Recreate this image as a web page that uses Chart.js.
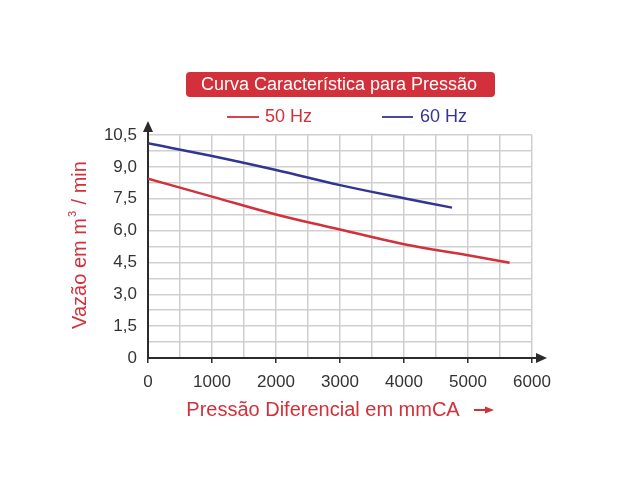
<!DOCTYPE html>
<html>
<head>
<meta charset="utf-8">
<script src="https://cdn.jsdelivr.net/npm/chart.js@4.4.0/dist/chart.umd.min.js"></script>
<style>
html,body{margin:0;padding:0;background:#fff;}
#wrap{width:640px;height:480px;position:relative;}
</style>
</head>
<body>
<div id="wrap"><canvas id="c" width="640" height="480"></canvas></div>
<script>
const chartTitle = 'Curva Característica para Pressão';
const seriesNames = ['50 Hz', '60 Hz'];
const xTitle = 'Pressão Diferencial em mmCA';
const yTitleParts = ['Vazão em m', '3', ' / min'];
const x50 = [0, 1000, 2000, 3000, 4000, 5000, 5650];
const y50 = [8.44, 7.6, 6.76, 6.05, 5.36, 4.84, 4.48];
const x60 = [0, 1000, 2000, 3000, 4000, 4750];
const y60 = [10.11, 9.51, 8.85, 8.14, 7.52, 7.08];
const yTickLabels = ['0', '1,5', '3,0', '4,5', '6,0', '7,5', '9,0', '10,5'];
const xTickLabels = ['0', '1000', '2000', '3000', '4000', '5000', '6000'];

const RED = '#d2303a';
const BLUE = '#333592';
const FONT = '"Liberation Sans", Arial, sans-serif';

const pts = (xs, ys) => xs.map((x, i) => ({x: x, y: ys[i]}));

const deco = {
  id: 'deco',
  afterDraw(chart) {
    const ctx = chart.ctx;
    const xs = chart.scales.x, ys = chart.scales.y;
    const x0 = xs.getPixelForValue(0), y0 = ys.getPixelForValue(0);
    const xEnd = xs.getPixelForValue(6000), yTop = ys.getPixelForValue(10.5);
    ctx.save();
    // arrows
    ctx.fillStyle = '#2b2b2b';
    ctx.strokeStyle = '#2b2b2b';
    ctx.lineWidth = 2;
    ctx.beginPath(); ctx.moveTo(x0, yTop); ctx.lineTo(x0, yTop - 6); ctx.stroke();
    ctx.beginPath(); ctx.moveTo(x0, yTop - 14); ctx.lineTo(x0 - 5, yTop - 3); ctx.lineTo(x0 + 5, yTop - 3); ctx.closePath(); ctx.fill();
    ctx.beginPath(); ctx.moveTo(xEnd, y0); ctx.lineTo(xEnd + 6, y0); ctx.stroke();
    ctx.beginPath(); ctx.moveTo(xEnd + 15, y0); ctx.lineTo(xEnd + 4, y0 - 5); ctx.lineTo(xEnd + 4, y0 + 5); ctx.closePath(); ctx.fill();
    // title box
    ctx.fillStyle = RED;
    ctx.beginPath();
    if (ctx.roundRect) ctx.roundRect(186, 72, 309, 25, 4); else ctx.rect(186, 72, 309, 25);
    ctx.fill();
    ctx.fillStyle = '#ffffff';
    ctx.font = '18px ' + FONT;
    ctx.textAlign = 'center';
    ctx.textBaseline = 'middle';
    ctx.fillText(chartTitle, 339, 85);
    // legend
    ctx.lineWidth = 1.8;
    ctx.strokeStyle = RED;
    ctx.beginPath(); ctx.moveTo(227, 117); ctx.lineTo(259, 117); ctx.stroke();
    ctx.strokeStyle = BLUE;
    ctx.beginPath(); ctx.moveTo(382, 117); ctx.lineTo(413, 117); ctx.stroke();
    ctx.font = '18px ' + FONT;
    ctx.textAlign = 'left';
    ctx.fillStyle = RED; ctx.fillText(seriesNames[0], 265, 117);
    ctx.fillStyle = BLUE; ctx.fillText(seriesNames[1], 420, 117);
    // x title
    ctx.font = '20px ' + FONT;
    ctx.fillStyle = RED;
    ctx.textAlign = 'center';
    ctx.fillText(xTitle, 323, 410);
    ctx.strokeStyle = RED;
    ctx.lineWidth = 2;
    ctx.beginPath(); ctx.moveTo(474, 410); ctx.lineTo(487, 410); ctx.stroke();
    ctx.beginPath(); ctx.moveTo(494, 410); ctx.lineTo(485, 406.5); ctx.lineTo(485, 413.5); ctx.closePath(); ctx.fillStyle = RED; ctx.fill();
    // y title with superscript
    ctx.translate(80, 245);
    ctx.rotate(-Math.PI / 2);
    ctx.fillStyle = RED;
    ctx.textAlign = 'left';
    const big = '20px ' + FONT, small = '11px ' + FONT;
    ctx.font = big; const w0 = ctx.measureText(yTitleParts[0]).width;
    ctx.font = small; const w1 = ctx.measureText(yTitleParts[1]).width + 2;
    ctx.font = big; const w2 = ctx.measureText(yTitleParts[2]).width;
    let sx = -(w0 + w1 + w2) / 2;
    ctx.font = big; ctx.fillText(yTitleParts[0], sx, 0); sx += w0 + 1;
    ctx.font = small; ctx.fillText(yTitleParts[1], sx, -7); sx += w1 - 1;
    ctx.font = big; ctx.fillText(yTitleParts[2], sx, 0);
    ctx.restore();
  }
};

new Chart(document.getElementById('c'), {
  type: 'line',
  data: {
    datasets: [
      {label: seriesNames[0], data: pts(x50, y50), borderColor: RED, borderWidth: 2.5, pointRadius: 0, tension: 0.4, fill: false},
      {label: seriesNames[1], data: pts(x60, y60), borderColor: BLUE, borderWidth: 2.5, pointRadius: 0, tension: 0.4, fill: false}
    ]
  },
  options: {
    responsive: false,
    animation: false,
    devicePixelRatio: 1,
    layout: {padding: {left: 100, right: 108, top: 135, bottom: 82}},
    plugins: {legend: {display: false}, title: {display: false}, tooltip: {enabled: false}},
    scales: {
      x: {
        type: 'linear', min: 0, max: 6000,
        afterFit: s => { s.height = 40; },
        ticks: {
          stepSize: 500, autoSkip: false, maxRotation: 0, padding: 9,
          color: '#333', font: {family: FONT, size: 17},
          callback: (v) => { const i = xTickLabels.indexOf(String(v)); return i >= 0 ? xTickLabels[i] : ''; }
        },
        grid: {
          color: '#cfcfcf', lineWidth: 1.5, tickLength: 5,
          tickColor: c => (c.tick && c.tick.value % 1000 === 0) ? '#2b2b2b' : 'rgba(0,0,0,0)',
          tickWidth: 1.5
        },
        border: {color: '#2b2b2b', width: 2}
      },
      y: {
        type: 'linear', min: 0, max: 10.5,
        afterFit: s => { s.width = 48; },
        ticks: {
          stepSize: 0.75, autoSkip: false, padding: 11,
          color: '#333', font: {family: FONT, size: 17},
          callback: (v, i) => (i % 2 === 0) ? yTickLabels[i / 2] : ''
        },
        grid: {color: '#cfcfcf', lineWidth: 1.5, drawTicks: false},
        border: {color: '#2b2b2b', width: 2}
      }
    }
  },
  plugins: [deco]
});
</script>
</body>
</html>
